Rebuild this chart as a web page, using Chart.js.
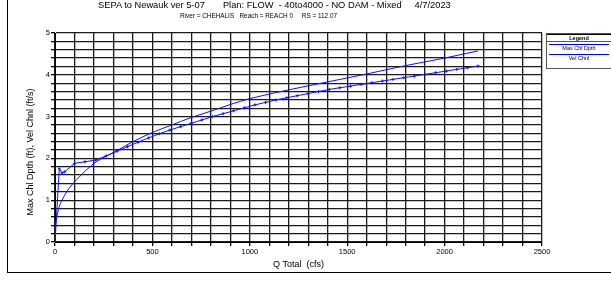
<!DOCTYPE html>
<html>
<head>
<meta charset="utf-8">
<script src="https://cdn.jsdelivr.net/npm/chart.js@4/dist/chart.umd.min.js"></script>
<style>
  body { margin: 0; background: #fff; font-family: Arial, "Liberation Sans", sans-serif; }
  #wrap { position: relative; width: 611px; height: 282px; overflow: hidden; }
  #frame { position: absolute; left: 7px; top: 0; width: 620px; height: 272px;
           border-left: 1px solid #000; border-bottom: 1px solid #000; }
  .t { position: absolute; white-space: pre; color: #000; }
  #ytitle { left: 30px; top: 152px; font-size: 9px; transform: translate(-50%, -50%) rotate(-90deg); }
  #legend { position: absolute; left: 546px; top: 33px; width: 64px; height: 34px;
            border: 1px solid #555; font-size: 5.5px; text-align: center; }
  #legend .hd { font-weight: bold; border-top: 1px solid #000; border-bottom: 1px solid #555; height: 6px; line-height: 6px; }
  #legend .ln { position: relative; height: 1px; background: blue; margin: 2px 2px 0 2px; }
  #legend .tx { line-height: 7px; height: 7px; }
</style>
</head>
<body>
<div id="wrap">
  <canvas id="chart" width="611" height="282"></canvas>
  <div id="frame"></div>
  <div class="t" style="left:98px;top:0px;font-size:9.3px;line-height:11px;">SEPA to Newauk ver 5-07       Plan: FLOW  - 40to4000 - NO DAM - Mixed     4/7/2023</div>
  <div class="t" style="left:180px;top:12px;font-size:6.4px;line-height:8px;">River = CHEHALIS   Reach = REACH 0     RS = 112.07</div>
  <div class="t" id="ytitle">Max Chl Dpth (ft), Vel Chnl (ft/s)</div>
  <div id="legend">
    <div class="hd">Legend</div>
    <div class="ln"></div>
    <div class="tx">Max Chl Dpth</div>
    <div class="ln"></div>
    <div class="tx">Vel Chnl</div>
  </div>
</div>
<script>
// Max Chl Dpth (ft) vs Q Total (cfs)
const qDepth = [0, 2, 5, 10, 20, 36, 60, 85, 113, 160, 215, 270, 330, 400, 500, 600, 700, 800, 900, 1000, 1200, 1400, 1600, 1800, 2000, 2171];
const depth = [0, 0.3, 0.5, 0.62, 0.82, 1.0, 1.2, 1.36, 1.5, 1.72, 1.93, 2.07, 2.22, 2.4, 2.62, 2.8, 2.98, 3.13, 3.29, 3.43, 3.64, 3.83, 4.02, 4.22, 4.4, 4.57];

// Vel Chnl (ft/s) vs Q Total (cfs)
const qVel = [0, 22, 36, 50, 100, 154, 209, 263, 318, 372, 427, 481, 536, 590, 645, 699, 754, 808, 863, 917, 972, 1026, 1081, 1135, 1190, 1244, 1299, 1353, 1408, 1462, 1517, 1571, 1626, 1680, 1735, 1790, 1845, 1900, 1954, 2009, 2063, 2118, 2172];
const vel = [0, 1.75, 1.65, 1.68, 1.88, 1.92, 1.96, 2.06, 2.17, 2.28, 2.39, 2.49, 2.59, 2.68, 2.76, 2.84, 2.92, 3.0, 3.07, 3.14, 3.21, 3.28, 3.34, 3.4, 3.45, 3.5, 3.55, 3.6, 3.65, 3.69, 3.73, 3.77, 3.81, 3.85, 3.89, 3.93, 3.97, 4.01, 4.05, 4.09, 4.13, 4.17, 4.21];

const font = "Arial, 'Liberation Sans', sans-serif";

function pts(xs, ys) {
    return xs.map((x, i) => ({ x: x, y: ys[i] }));
}

var ctx = document.getElementById("chart").getContext("2d");
window.chart = new Chart(ctx, {
    type: "scatter",
    data: {
        datasets: [
            {
                label: "Max Chl Dpth",
                data: pts(qDepth, depth),
                showLine: true,
                borderColor: "#1010ff",
                borderWidth: 1,
                pointRadius: 0,
                cubicInterpolationMode: "monotone",
            },
            {
                label: "Vel Chnl",
                data: pts(qVel, vel),
                showLine: true,
                borderColor: "#1010ff",
                backgroundColor: "#1010ff",
                borderWidth: 1,
                pointStyle: "cross",
                pointRadius: 1.5,
                pointBorderWidth: 1,
            },
        ],
    },
    options: {
        responsive: false,
        animation: false,
        layout: { padding: { left: 8, top: 33, right: 69, bottom: 10 } },
        plugins: {
            legend: { display: false },
            tooltip: { enabled: false },
        },
        scales: {
            x: {
                type: "linear",
                min: 0,
                max: 2500,
                afterFit: (s) => { s.height = 30; },
                ticks: {
                    stepSize: 100,
                    autoSkip: false,
                    maxRotation: 0,
                    padding: 1,
                    color: "#000",
                    font: { family: font, size: 7.5 },
                    callback: (v) => (v % 500 === 0 ? v : ""),
                },
                grid: { color: "#1a1a1a", lineWidth: 1.3, tickLength: 4, tickColor: "#000" },
                border: { color: "#000" },
                title: {
                    display: true,
                    text: "Q Total  (cfs)",
                    color: "#000",
                    font: { family: font, size: 9 },
                    padding: { top: 0, bottom: 2 },
                },
            },
            y: {
                min: 0,
                max: 5,
                afterFit: (s) => { s.width = 47; },
                ticks: {
                    stepSize: 0.2,
                    autoSkip: false,
                    padding: 1,
                    color: "#000",
                    font: { family: font, size: 7.5 },
                    callback: (v) => (Math.abs(v - Math.round(v)) < 1e-6 ? Math.round(v) : ""),
                },
                grid: { color: "#1a1a1a", lineWidth: 1.3, tickLength: 4, tickColor: "#000" },
                border: { color: "#000" },
            },
        },
    },
});
</script>
</body>
</html>
